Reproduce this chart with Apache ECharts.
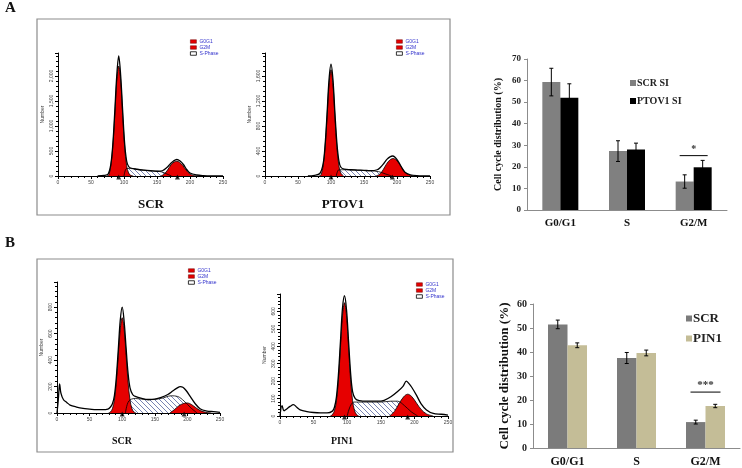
<!DOCTYPE html>
<html>
<head>
<meta charset="utf-8">
<script src="https://cdn.jsdelivr.net/npm/echarts@6/dist/echarts.min.js"></script>
<style>
html, body { margin: 0; padding: 0; background: #fff; }
#main { width: 742px; height: 468px; }
</style>
</head>
<body>
<div id="main"></div>
<script>
// ---- flow cytometry histograms: [channel, count] ----
var aScrOutline = [[60,0],[70,10],[76,40],[80,230],[83,620],[86,1280],[89,2000],[92,2400],[95,2000],[98,1300],[101,650],[104,300],[107,190],[110,160],[120,135],[130,118],[140,105],[150,95],[158,105],[165,170],[170,240],[175,300],[180,330],[185,300],[190,230],[195,130],[200,60],[210,20],[220,8],[240,2],[250,0]]
var aScrG1 = [[74,0],[77,20],[80,205],[83,580],[86,1210],[89,1900],[92,2200],[95,1900],[98,1210],[101,580],[104,205],[107,60],[110,15],[114,0]]
var aScrS = [[100,0],[104,150],[110,150],[120,130],[130,115],[140,105],[150,95],[158,80],[165,40],[172,0]]
var aScrG2 = [[156,0],[161,40],[166,120],[171,220],[176,280],[180,295],[184,275],[189,210],[194,120],[199,50],[205,12],[212,0]]
var aScrPeaks = [92, 181]

var aPtovOutline = [[65,0],[75,10],[83,40],[88,190],[91,490],[94,990],[97,1540],[100,1790],[103,1540],[106,1000],[109,520],[112,240],[115,140],[120,110],[130,100],[140,95],[150,90],[160,85],[170,100],[175,140],[180,200],[185,270],[190,310],[193,320],[197,300],[202,230],[207,140],[212,60],[220,20],[230,5],[250,0]]
var aPtovG1 = [[82,0],[85,20],[88,160],[91,450],[94,940],[97,1460],[100,1700],[103,1460],[106,940],[109,450],[112,160],[115,45],[119,0]]
var aPtovS = [[108,0],[112,100],[120,100],[140,92],[160,82],[172,70],[182,35],[192,0]]
var aPtovG2 = [[168,0],[174,30],[179,100],[184,190],[189,255],[194,280],[199,255],[204,185],[209,105],[214,45],[221,10],[228,0]]
var aPtovPeaks = [100, 193]

var bScrOutline = [[0,0],[2,100],[4,220],[6,150],[10,100],[15,80],[20,60],[30,45],[40,35],[50,30],[60,25],[70,25],[78,30],[82,45],[85,70],[88,130],[91,270],[94,480],[97,700],[100,800],[103,690],[106,490],[109,300],[112,190],[116,140],[120,125],[130,110],[140,102],[150,105],[160,118],[170,140],[178,168],[184,188],[189,200],[193,195],[198,170],[205,120],[212,70],[220,30],[230,15],[240,10],[250,5]]
var bScrG1 = [[79,0],[82,8],[85,32],[88,97],[91,234],[94,437],[97,635],[100,720],[103,635],[106,437],[109,234],[112,97],[115,32],[118,8],[121,0]]
var bScrS = [[105,0],[110,90],[120,110],[140,100],[160,110],[175,130],[185,125],[195,90],[205,40],[215,0]]
var bScrG2 = [[173,0],[180,25],[187,55],[194,72],[200,76],[206,65],[213,40],[220,18],[228,5],[236,0]]
var bScrPeaks = [100, 195]

var bPinOutline = [[0,0],[3,60],[6,30],[10,40],[15,55],[20,65],[25,50],[30,35],[40,25],[50,20],[60,18],[70,18],[78,28],[81,50],[84,110],[87,240],[90,430],[93,620],[96,690],[99,610],[102,430],[105,250],[108,140],[112,100],[118,88],[130,85],[145,85],[155,90],[165,110],[175,140],[183,170],[188,200],[191,190],[196,165],[203,120],[210,70],[218,35],[228,15],[240,10],[250,5]]
var bPinG1 = [[75,0],[78,8],[81,30],[84,88],[87,210],[90,395],[93,575],[96,650],[99,575],[102,395],[105,210],[108,88],[111,30],[114,8],[117,0]]
var bPinS = [[100,0],[110,80],[130,80],[150,80],[165,85],[175,85],[185,60],[195,25],[205,0]]
var bPinG2 = [[163,0],[170,25],[177,70],[184,110],[190,125],[196,112],[203,75],[210,38],[218,12],[228,0]]
var bPinPeaks = [96, 190]

// ---- bar charts ----
var phases = ['G0/G1', 'S', 'G2/M']
var scrSi = [59.3, 27.3, 13.2]
var scrSiErr = [6.4, 4.8, 3.1]
var ptovSi = [52.0, 28.0, 19.8]
var ptovSiErr = [6.5, 3.0, 3.2]
var sigA = [[2, 25.2, '*']]

var scr = [51.5, 37.5, 10.8]
var scrErr = [1.8, 2.3, 0.8]
var pin1 = [42.8, 39.6, 17.5]
var pin1Err = [1.0, 1.2, 0.7]
var sigB = [[2, 23.3, '***']]

var serif = '"Liberation Serif", "DejaVu Serif", serif'
var sans = '"Liberation Sans", Arial, sans-serif'
var RED = '#e60000'

// hatch pattern for the S-phase area
var pc = document.createElement('canvas')
pc.width = 5; pc.height = 5
var g = pc.getContext('2d')
g.fillStyle = '#fff'; g.fillRect(0, 0, 5, 5)
g.strokeStyle = '#5563a0'; g.lineWidth = 0.8
g.beginPath()
g.moveTo(0, 0); g.lineTo(5, 5)
g.moveTo(-1, 4); g.lineTo(1, 6)
g.moveTo(4, -1); g.lineTo(6, 1)
g.stroke()
var hatch = { image: pc, repeat: 'repeat' }

var grids = [], xAxes = [], yAxes = [], series = [], legends = []

function addHist(box, ymax, yint, sets, legendPos) {
  var i = grids.length
  grids.push(box)
  xAxes.push({
    gridIndex: i, type: 'value', min: 0, max: 250, interval: 50,
    axisLine: { lineStyle: { color: '#000', width: 1 } },
    axisTick: { length: 3, lineStyle: { color: '#000' } },
    minorTick: { show: true, splitNumber: 5, length: 2, lineStyle: { color: '#000' } },
    axisLabel: { fontSize: 5, color: '#444', fontFamily: sans, margin: 4 },
    splitLine: { show: false }
  })
  yAxes.push({
    gridIndex: i, type: 'value', min: 0, max: ymax, interval: yint,
    name: 'Number', nameLocation: 'middle', nameGap: 13, nameRotate: 90,
    nameTextStyle: { fontSize: 5, color: '#444', fontFamily: sans },
    axisLine: { show: true, lineStyle: { color: '#000', width: 1 } },
    axisTick: { show: true, length: 3, lineStyle: { color: '#000' } },
    minorTick: { show: true, splitNumber: 5, length: 2, lineStyle: { color: '#000' } },
    axisLabel: { fontSize: 5, color: '#444', fontFamily: sans, rotate: 90, margin: 4, showMaxLabel: false },
    splitLine: { show: false }
  })
  var common = { xAxisIndex: i, yAxisIndex: i, type: 'line', symbol: 'none', smooth: 0.35, silent: true }
  series.push(Object.assign({}, common, {
    name: 'S-Phase', data: sets.s, color: '#fff',
    lineStyle: { color: '#000', width: 0.8 }, areaStyle: { color: hatch, opacity: 1 }
  }))
  series.push(Object.assign({}, common, {
    name: 'G0G1', data: sets.g1, color: RED,
    lineStyle: { color: '#000', width: 0.8 }, areaStyle: { color: RED, opacity: 1 }
  }))
  series.push(Object.assign({}, common, {
    name: 'G2M', data: sets.g2, color: RED,
    lineStyle: { color: '#000', width: 0.8 }, areaStyle: { color: RED, opacity: 1 }
  }))
  series.push(Object.assign({}, common, {
    name: 'outline', data: sets.outline, color: '#000',
    lineStyle: { color: '#000', width: 1.3 }
  }))
  series.push({
    type: 'scatter', xAxisIndex: i, yAxisIndex: i, silent: true,
    symbol: 'triangle', symbolSize: [5, 5], symbolOffset: [0, 1],
    itemStyle: { color: '#000' },
    data: sets.peaks.map(function (p) { return [p, 0] }), z: 5
  })
  legends.push({
    left: legendPos[0], top: legendPos[1], orient: 'vertical', icon: 'rect',
    itemWidth: 6, itemHeight: 3.5, itemGap: 1, selectedMode: false, padding: 0,
    textStyle: { fontSize: 5, color: '#3333cc', fontFamily: sans, padding: [0, 0, 0, -2] },
    data: [
      { name: 'G0G1', itemStyle: { color: RED, borderColor: '#600', borderWidth: 0.5 } },
      { name: 'G2M', itemStyle: { color: RED, borderColor: '#600', borderWidth: 0.5 } },
      { name: 'S-Phase', itemStyle: { color: '#fff', borderColor: '#000', borderWidth: 0.8 } }
    ]
  })
}

addHist({ left: 58, top: 53, width: 165, height: 123 }, 2460, 500,
  { outline: aScrOutline, g1: aScrG1, s: aScrS, g2: aScrG2, peaks: aScrPeaks }, [190, 39])
addHist({ left: 265, top: 53, width: 165, height: 123 }, 1968, 400,
  { outline: aPtovOutline, g1: aPtovG1, s: aPtovS, g2: aPtovG2, peaks: aPtovPeaks }, [396, 39])
addHist({ left: 57, top: 282, width: 163, height: 131 }, 990, 200,
  { outline: bScrOutline, g1: bScrG1, s: bScrS, g2: bScrG2, peaks: bScrPeaks }, [188, 268])
addHist({ left: 280, top: 294, width: 168, height: 122 }, 700, 100,
  { outline: bPinOutline, g1: bPinG1, s: bPinS, g2: bPinG2, peaks: bPinPeaks }, [416, 282])

function errSeries(ai, vals, errs, side, bw) {
  return {
    type: 'custom', xAxisIndex: ai, yAxisIndex: ai, silent: true, z: 10,
    data: vals.map(function (v, k) { return [k, v, errs[k]] }),
    renderItem: function (params, api) {
      var c = api.coord([api.value(0), api.value(1)])
      var x = c[0] + side * bw / 2
      var hi = api.coord([api.value(0), api.value(1) + api.value(2)])[1]
      var lo = api.coord([api.value(0), api.value(1) - api.value(2)])[1]
      var st = { stroke: '#000', lineWidth: 1 }
      return {
        type: 'group', children: [
          { type: 'line', shape: { x1: x, y1: hi, x2: x, y2: lo }, style: st },
          { type: 'line', shape: { x1: x - 2, y1: hi, x2: x + 2, y2: hi }, style: st },
          { type: 'line', shape: { x1: x - 2, y1: lo, x2: x + 2, y2: lo }, style: st }
        ]
      }
    }
  }
}

function sigSeries(ai, sig, half, fs) {
  return {
    type: 'custom', xAxisIndex: ai, yAxisIndex: ai, silent: true, z: 10,
    data: sig.map(function (s) { return [s[0], s[1]] }),
    renderItem: function (params, api) {
      var c = api.coord([api.value(0), api.value(1)])
      return {
        type: 'group', children: [
          { type: 'line', shape: { x1: c[0] - half, y1: c[1], x2: c[0] + half, y2: c[1] }, style: { stroke: '#000', lineWidth: 1 } },
          { type: 'text', x: c[0], y: c[1] - 1, style: { text: sig[params.dataIndex][2], textAlign: 'center', textVerticalAlign: 'bottom', font: 'bold ' + fs + 'px ' + serif, fill: '#333' } }
        ]
      }
    }
  }
}

function addBars(box, ymax, names, vals, errs, colors, bw, fs, nameFs, nameGap, legendPos, sig, sigHalf) {
  var i = grids.length
  grids.push(box)
  xAxes.push({
    gridIndex: i, type: 'category', data: phases,
    axisLine: { lineStyle: { color: '#8c8c8c' } },
    axisTick: { length: 4, lineStyle: { color: '#8c8c8c' } },
    axisLabel: { fontSize: fs + 2, fontWeight: 'bold', color: '#111', fontFamily: serif, margin: 8 }
  })
  yAxes.push({
    gridIndex: i, type: 'value', min: 0, max: ymax, interval: 10,
    name: 'Cell cycle distribution (%)', nameLocation: 'middle', nameGap: nameGap, nameRotate: 90,
    nameTextStyle: { fontSize: nameFs, fontWeight: 'bold', color: '#111', fontFamily: serif },
    axisLine: { show: true, lineStyle: { color: '#8c8c8c' } },
    axisTick: { show: true, length: 3, lineStyle: { color: '#8c8c8c' } },
    axisLabel: { fontSize: fs, fontWeight: 'bold', color: '#222', fontFamily: serif, margin: 6 },
    splitLine: { show: false }
  })
  for (var k = 0; k < 2; k++) {
    series.push({
      name: names[k], type: 'bar', xAxisIndex: i, yAxisIndex: i, silent: true,
      barWidth: bw, barGap: '0%', data: vals[k], itemStyle: { color: colors[k] }
    })
  }
  series.push(errSeries(i, vals[0], errs[0], -1, bw))
  series.push(errSeries(i, vals[1], errs[1], 1, bw))
  series.push(sigSeries(i, sig, sigHalf, fs + 1))
  legends.push({
    left: legendPos[0], top: legendPos[1], orient: 'vertical', icon: 'rect',
    itemWidth: 6, itemHeight: 6, itemGap: legendPos[2], selectedMode: false, padding: 0,
    textStyle: { fontSize: nameFs, fontWeight: 'bold', color: '#222', fontFamily: serif, padding: [0, 0, 0, -4] },
    data: names.map(function (n, k) { return { name: n, itemStyle: { color: colors[k] } } })
  })
}

addBars({ left: 527, top: 59, width: 200, height: 151 }, 70, ['SCR SI', 'PTOV1 SI'],
  [scrSi, ptovSi], [scrSiErr, ptovSiErr], ['#808080', '#000'], 18, 9, 10, 24, [630, 78, 8], sigA, 14)
addBars({ left: 533, top: 304, width: 207, height: 144 }, 60, ['SCR', 'PIN1'],
  [scr, pin1], [scrErr, pin1Err], ['#7b7b7b', '#c4bd97'], 19.5, 10, 13, 22, [686, 312, 7], sigB, 15)

var chart = echarts.init(document.getElementById('main'))
chart.setOption({
  animation: false,
  backgroundColor: '#fff',
  grid: grids,
  xAxis: xAxes,
  yAxis: yAxes,
  legend: legends,
  series: series,
  graphic: [
    { type: 'rect', shape: { x: 37, y: 19, width: 413, height: 196 }, style: { fill: 'none', stroke: '#8c8c8c', lineWidth: 1.2 }, silent: true },
    { type: 'rect', shape: { x: 37, y: 259, width: 416, height: 193 }, style: { fill: 'none', stroke: '#8c8c8c', lineWidth: 1.2 }, silent: true },
    { type: 'text', x: 5, y: 1, style: { text: 'A', font: 'bold 15px ' + serif, fill: '#111' } },
    { type: 'text', x: 5, y: 236, style: { text: 'B', font: 'bold 15px ' + serif, fill: '#111' } },
    { type: 'text', x: 151, y: 205, style: { text: 'SCR', font: 'bold 13px ' + serif, fill: '#111', textAlign: 'center', textVerticalAlign: 'middle' } },
    { type: 'text', x: 343, y: 205, style: { text: 'PTOV1', font: 'bold 13px ' + serif, fill: '#111', textAlign: 'center', textVerticalAlign: 'middle' } },
    { type: 'text', x: 122, y: 441, style: { text: 'SCR', font: 'bold 10px ' + serif, fill: '#111', textAlign: 'center', textVerticalAlign: 'middle' } },
    { type: 'text', x: 342, y: 441, style: { text: 'PIN1', font: 'bold 10px ' + serif, fill: '#111', textAlign: 'center', textVerticalAlign: 'middle' } }
  ]
})
</script>
</body>
</html>
